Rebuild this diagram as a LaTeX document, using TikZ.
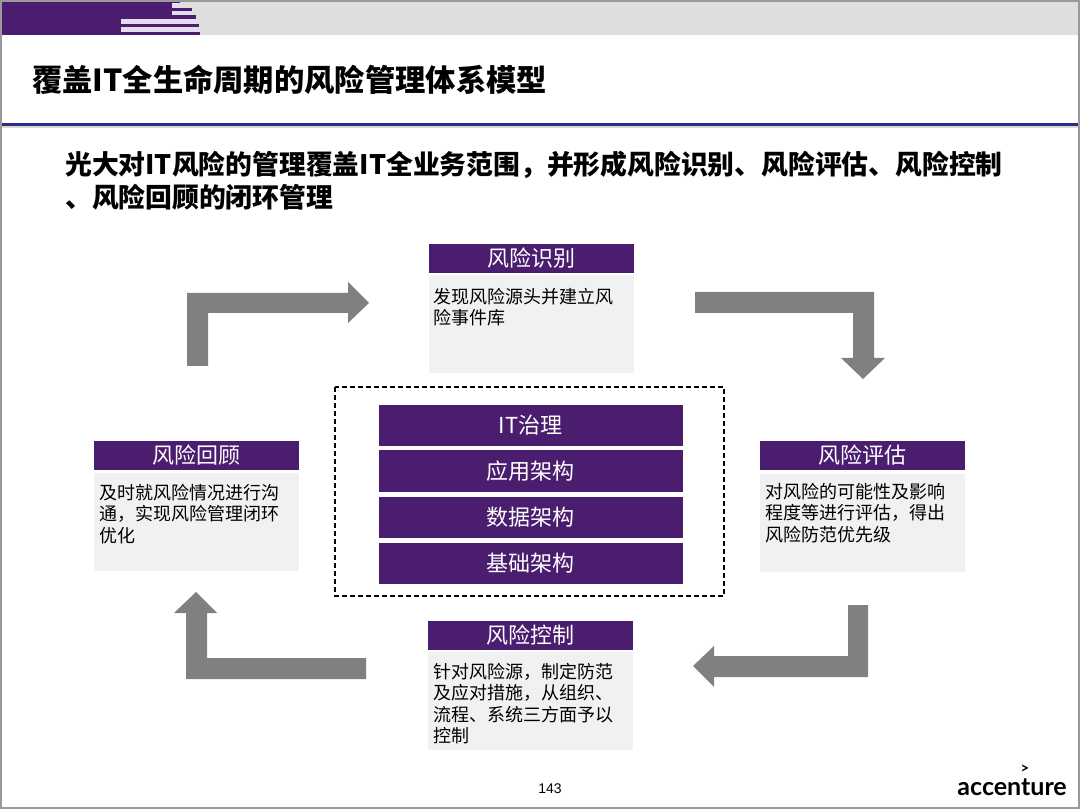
\documentclass[tikz,border=0pt]{standalone}
\usepackage{fontspec}
\setmainfont{Liberation Sans}
\newfontfamily\cjk{Noto Sans CJK SC}[BoldFont={Noto Sans CJK SC Black}]
\newfontfamily\logofont{Lato}
\usetikzlibrary{arrows.meta,positioning}
\definecolor{purpleDark}{HTML}{4B1D6F}
\definecolor{purpleLight}{HTML}{E6DCEF}
\definecolor{bandgrey}{HTML}{DEDEDE}
\definecolor{framegrey}{HTML}{9A9A9A}
\definecolor{rulebar}{HTML}{2F2C86}
\definecolor{bodygrey}{HTML}{F1F0F3}
\definecolor{arrowgrey}{HTML}{808080}
\tikzset{
  headbox/.style={fill=purpleDark,text=white,minimum width=205,minimum height=29,inner sep=0,font=\cjk\fontsize{22}{22}\selectfont},
  layerbox/.style={fill=purpleDark,text=white,minimum width=304,minimum height=41,inner sep=0,font=\fontsize{22}{22}\selectfont\cjk},
  bodybox/.style={fill=bodygrey,minimum width=205,minimum height=98,inner sep=0},
  bodytext/.style={anchor=north west,inner sep=0,align=left,font=\cjk\fontsize{18}{21.5}\selectfont},
  bentarrow/.style={fill=arrowgrey}
}
\begin{document}
\begin{tikzpicture}[x=1pt,y=-1pt]
  \useasboundingbox (0,0) rectangle (1080,810);
  % top band
  \fill[bandgrey] (1,1) rectangle (1079,35);
  \fill[purpleDark] (1,1) rectangle (172,35);
  \foreach \ya/\yb/\xa/\xb in {3/8/172/181,11/15/172/192,19/24/121/197,27/32/121/199}{
    \fill[purpleLight] (\xa,\ya) rectangle (\xb,\yb);}
  \foreach \ya/\yb/\xb in {1/3/180,8/11/192,15/19/196,24/27/199,32/35/200}{
    \fill[purpleDark] (172,\ya) rectangle (\xb,\yb);}
  \draw[framegrey,line width=2] (1,1) rectangle (1079,808);
  % title
  \node[anchor=west,inner sep=0] (title) at (32,80) {\cjk\bfseries\fontsize{30.3}{30.3}\selectfont 覆盖IT全生命周期的风险管理体系模型};
  \fill[black!15] (2,126) rectangle (1078,128);
  \draw[rulebar,line width=3] (2,124.5) -- (1078,124.5);
  \node[anchor=north west,inner sep=0,align=left,font=\cjk\bfseries\fontsize{26.8}{33}\selectfont] (subtitle) at (65,151)
    {光大对IT风险的管理覆盖IT全业务范围，并形成风险识别、风险评估、风险控制\\、风险回顾的闭环管理};
  % four steps
  \foreach \n/\x/\yh/\yb/\name in {shibie/531.5/258.5/324/风险识别,huigu/196.5/455.5/522/风险回顾,pinggu/862.5/455.5/523/风险评估,kongzhi/530.5/635/701/风险控制}{
    \node[bodybox] (\n body) at (\x,\yb) {};
    \node[headbox] (\n) at (\x,\yh) {\raisebox{-1.5pt}{\name}};}
  \node[bodytext] (shibietext) at ([xshift=4.5,yshift=-13]shibiebody.north west) {发现风险源头并建立风\\险事件库};
  \node[bodytext] (huigutext) at ([xshift=5,yshift=-11]huigubody.north west) {及时就风险情况进行沟\\通，实现风险管理闭环\\优化};
  \node[bodytext] (pinggutext) at ([xshift=5,yshift=-9]pinggubody.north west) {对风险的可能性及影响\\程度等进行评估，得出\\风险防范优先级};
  \node[bodytext] (kongzhitext) at ([xshift=5,yshift=-11]kongzhibody.north west) {针对风险源，制定防范\\及应对措施，从组织、\\流程、系统三方面予以\\控制};
  % centre
  \draw[black,line width=1.5,dash pattern=on 5pt off 3pt] (335,387) rectangle (724,596);
  \foreach \n/\y/\name in {zhili/425.5/IT治理,yingyong/471/应用架构,shuju/517/数据架构,jichu/563/基础架构}{
    \node[layerbox] (\n) at (530.5,\y) {\raisebox{-1pt}{\name}};}
  % bent arrows
  \fill[bentarrow] (187,366) -- (187,293) -- (348,293) -- (348,282) -- (369,303) -- (348,323) -- (348,313) -- (208,313) -- (208,366) -- cycle;
  \fill[bentarrow] (695,292) -- (874,292) -- (874,358) -- (885,358) -- (863,379) -- (841,358) -- (853,358) -- (853,313) -- (695,313) -- cycle;
  \fill[bentarrow] (868,605) -- (868,677) -- (714,677) -- (714,687) -- (693,666) -- (714,646) -- (714,656) -- (848,656) -- (848,605) -- cycle;
  \fill[bentarrow] (366,679) -- (186,679) -- (186,613) -- (174,613) -- (196,592) -- (217,613) -- (207,613) -- (207,658) -- (366,658) -- cycle;
  % footer
  \node[font=\fontsize{14}{14}\selectfont] (pagenum) at (550,789) {143};
  \node[anchor=base east,inner sep=0,font=\logofont\bfseries\fontsize{25}{25}\selectfont] (logo) at (1067,795) {accenture};
  \node[inner sep=0,font=\logofont\bfseries\fontsize{15}{15}\selectfont] (logomark) at (1025,769) {>};
\end{tikzpicture}
\end{document}
